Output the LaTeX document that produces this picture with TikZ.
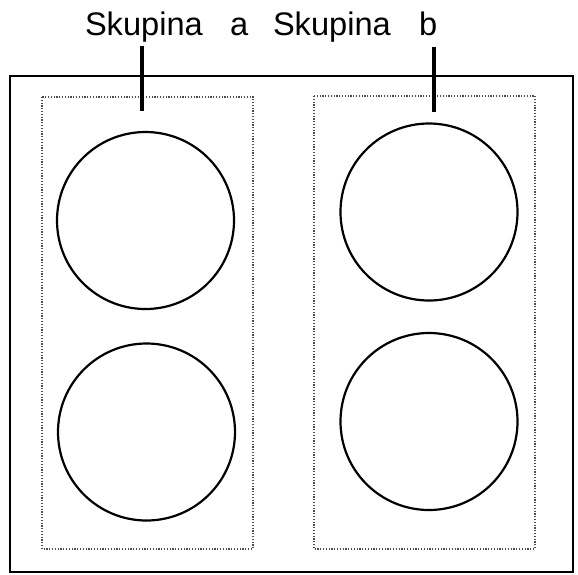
\documentclass[tikz,border=0pt]{standalone}
\usepackage{fontspec}
\usepackage{tikz}
\usetikzlibrary{positioning}
\newfontfamily\labelfont{Liberation Sans}
\tikzset{every node/.style={inner sep=0pt,outer sep=0pt}}
\tikzset{plate/.style={circle,draw=black,line width=2.2pt,minimum size=177pt}}
\tikzset{zone/.style={draw=black!70,line width=1.3pt,dash pattern=on 1.2pt off 1.6pt}}
\newcommand{\word}[3]{\node[anchor=base west,font=\labelfont\fontsize{32.6}{36}\selectfont] at (#1) (#2) {#3}}

\begin{document}
\begin{tikzpicture}[x=1pt,y=-1pt]
        \useasboundingbox (0,0) rectangle (578,574);
        % outer frame
        \draw[line width=2pt] (10,76) rectangle (573,572);
        % groups
        \draw[zone] (42,97) rectangle (253,549);
        \draw[zone] (314,96) rectangle (535,549);
        % plates
        \node[plate] at (145.5,220.5) (a1) {};
        \node[plate] at (146.5,432) (a2) {};
        \node[plate] at (429,212) (b1) {};
        \node[plate] at (429,421.5) (b2) {};
        % labels
        \word{85,35}{skupa}{Skupina};
        \word{230,35}{a}{a};
        \word{273,35}{skupb}{Skupina};
        \word{419,35}{b}{b};
        \coordinate (tipa) at (142,111);
        \coordinate (topb) at (434,47);
        \coordinate (tipb) at (434,112);
        \draw[line width=3.5pt,shorten <=4pt] (skupa.south -| tipa) -- (tipa);
        \draw[line width=3.5pt] (topb) -- (tipb);

    \end{tikzpicture}
\end{document}
